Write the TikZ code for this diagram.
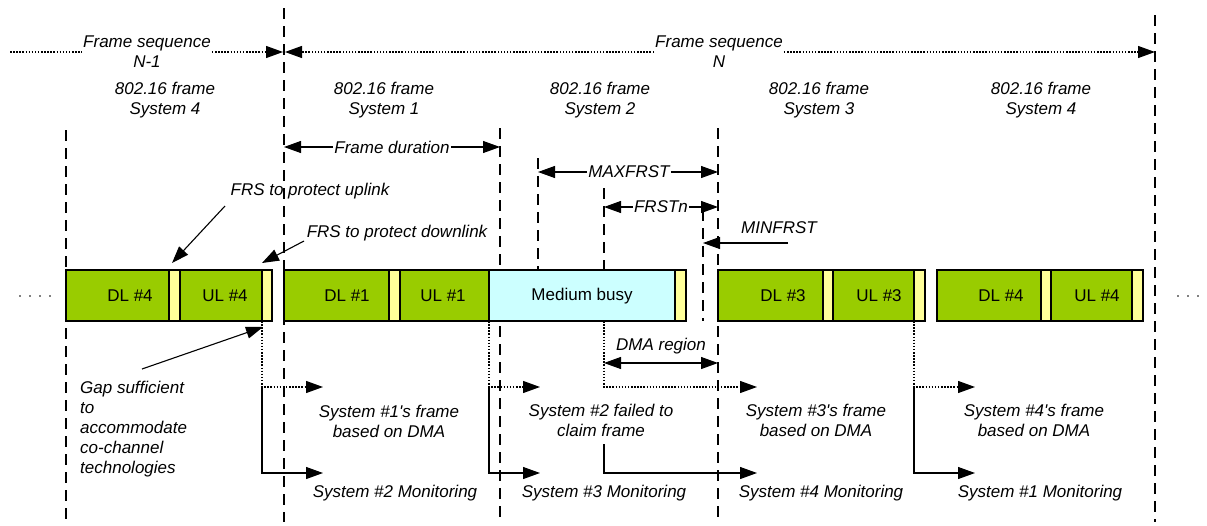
\documentclass[tikz,border=0pt]{standalone}
\usepackage{fontspec}
\setmainfont{Liberation Sans}
\usetikzlibrary{arrows.meta}
\definecolor{frmgreen}{HTML}{99CC00}
\definecolor{frsyellow}{HTML}{FFFF99}
\definecolor{busycyan}{HTML}{CCFFFF}
\newcommand{\apos}{\textquotesingle}
\begin{document}
\begin{tikzpicture}[x=1pt,y=-1pt,
  every node/.style={font=\fontsize{17}{20}\selectfont\itshape, inner sep=1pt},
  barlabel/.style={font=\fontsize{17}{20}\selectfont\upshape},
  guide/.style={line width=1.2pt, dash pattern=on 11pt off 7pt},
  dotln/.style={line width=1.2pt, dash pattern=on 1.5pt off 1.6pt},
  solidln/.style={line width=1.1pt},
  tip/.style={-{Triangle[length=17pt,width=12pt]}},
  bitip/.style={{Triangle[length=17pt,width=12pt]}-{Triangle[length=17pt,width=12pt]}},
  seg/.style={draw, line width=1.1pt},
  gapnote/.style={align=left, anchor=west},
  twoline/.style={align=center}
]
\useasboundingbox (0,0) rectangle (1207,525);

% frame boundaries and timing guides
\draw[guide] (66,130) -- (66,522);
\draw[guide] (284,8) -- (284,522);
\draw[guide] (500,128) -- (500,522);
\draw[guide] (718,128) -- (718,522);
\draw[guide] (1155,15) -- (1155,522);
\draw[guide] (538,158) -- (538,270);
\draw[guide] (604,188) -- (604,270);
\draw[guide] (703,210) -- (703,321);

% frame sequences
\coordinate (fsStart) at (10,52);
\coordinate (fsMid) at (284,52);
\coordinate (fsEnd) at (1155,52);
\node[twoline] (fsA) at (147,52) {Frame sequence\\N-1};
\node[twoline] (fsB) at (719,52) {Frame sequence\\N};
\draw[dotln] (fsStart) -- (fsA.west);
\draw[dotln, tip] (fsA.east) -- ([xshift=-1pt]fsMid);
\draw[dotln, tip] (fsB.west) -- ([xshift=1pt]fsMid);
\draw[dotln, tip] (fsB.east) -- (fsEnd);

% frame owners
\node[twoline] (own4a) at (165,100) {802.16 frame\\System 4};
\node[twoline] (own1) at (384,100) {802.16 frame\\System 1};
\node[twoline] (own2) at (600,100) {802.16 frame\\System 2};
\node[twoline] (own3) at (819,100) {802.16 frame\\System 3};
\node[twoline] (own4b) at (1041,100) {802.16 frame\\System 4};

% durations
\coordinate (fdL) at (284,147);
\coordinate (fdR) at (500,147);
\node (fd) at (392,147) {Frame duration};
\draw[solidln, tip] (fd.west) -- (fdL);
\draw[solidln, tip] (fd.east) -- (fdR);

\coordinate (mxL) at (538,172);
\coordinate (mxR) at (718,172);
\node (mx) at (629,172) {MAXFRST};
\draw[solidln, tip] (mx.west) -- (mxL);
\draw[solidln, tip] (mx.east) -- (mxR);

\coordinate (frL) at (604,207);
\coordinate (frR) at (718,207);
\node (fr) at (661,207) {FRSTn};
\draw[solidln, tip] (fr.west) -- (frL);
\draw[solidln, tip] (fr.east) -- (frR);

\node (mn) at (779,228) {MINFRST};
\coordinate (mnS) at (788,243);
\coordinate (mnT) at (703,243);
\draw[solidln, tip] (mnS) -- (mnT);

% frames
\draw[seg, fill=frmgreen] (66,270) rectangle (169,321);
\draw[seg, fill=frsyellow] (169,270) rectangle (180,321);
\draw[seg, fill=frmgreen] (180,270) rectangle (262,321);
\draw[seg, fill=frsyellow] (262,270) rectangle (272,321);

\draw[seg, fill=frmgreen] (284,270) rectangle (389,321);
\draw[seg, fill=frsyellow] (389,270) rectangle (400,321);
\draw[seg, fill=frmgreen] (400,270) rectangle (489,321);
\draw[seg, fill=busycyan] (489,270) rectangle (675,321);
\draw[seg, fill=frsyellow] (675,270) rectangle (686,321);

\draw[seg, fill=frmgreen] (718,270) rectangle (823,321);
\draw[seg, fill=frsyellow] (823,270) rectangle (833,321);
\draw[seg, fill=frmgreen] (833,270) rectangle (914,321);
\draw[seg, fill=frsyellow] (914,270) rectangle (925,321);

\draw[seg, fill=frmgreen] (937,270) rectangle (1041,321);
\draw[seg, fill=frsyellow] (1041,270) rectangle (1051,321);
\draw[seg, fill=frmgreen] (1051,270) rectangle (1132,321);
\draw[seg, fill=frsyellow] (1132,270) rectangle (1143,321);

\node[barlabel] (dl4a) at (130,296) {DL \#4};
\node[barlabel] (ul4a) at (225,296) {UL \#4};
\node[barlabel] (dl1) at (347,296) {DL \#1};
\node[barlabel] (ul1) at (443,296) {UL \#1};
\node[barlabel] (busy) at (582,296) {Medium busy};
\node[barlabel] (dl3) at (783,296) {DL \#3};
\node[barlabel] (ul3) at (879,296) {UL \#3};
\node[barlabel] (dl4b) at (1001,296) {DL \#4};
\node[barlabel] (ul4b) at (1097,296) {UL \#4};

% continuation dots
\foreach \x in {20,30,40,50,1178,1188,1198}
  \fill (\x,296) circle (0.8);

% protection slots
\node (frsU) at (310,191) {FRS to protect uplink};
\node (frsD) at (397,233) {FRS to protect downlink};
\coordinate (frsUs) at (225,206);
\coordinate (frsUt) at (172,263);
\coordinate (frsDs) at (304,241);
\coordinate (frsDt) at (262,263);
\draw[solidln, tip] (frsUs) -- (frsUt);
\draw[solidln, tip] (frsDs) -- (frsDt);

\node[gapnote] (gap) at (79,429) {Gap sufficient\\to\\accommodate\\co-channel\\technologies};
\coordinate (gapS) at (142,369);
\coordinate (gapT) at (263,327);
\draw[solidln, tip] (gapS) -- (gapT);

% DMA region
\node (dma) at (661,346) {DMA region};
\coordinate (dmaL) at (604,363);
\coordinate (dmaR) at (718,363);
\draw[solidln, bitip] (dmaL) -- (dmaR);

% hand-over to the next frame owner
\coordinate (h1) at (262,321);   \coordinate (h1m) at (262,387);
\coordinate (h2) at (489,321);   \coordinate (h2m) at (489,387);
\coordinate (h3) at (604,321);   \coordinate (h3m) at (604,444);
\coordinate (h4) at (914,321);   \coordinate (h4m) at (914,387);
\coordinate (d1) at (323,387);   \coordinate (m1) at (323,473);
\coordinate (d2) at (540,387);   \coordinate (m2) at (540,473);
\coordinate (d3) at (757,387);   \coordinate (m3) at (757,473);
\coordinate (d4) at (975,387);   \coordinate (m4) at (975,473);

\draw[dotln, tip] (h1) |- (d1);
\draw[solidln, tip] (h1m) |- (m1);
\draw[dotln, tip] (h2) |- (d2);
\draw[solidln, tip] (h2m) |- (m2);
\draw[dotln, tip] (h3) |- (d3);
\draw[solidln, tip] (h3m) |- (m3);
\draw[dotln, tip] (h4) |- (d4);
\draw[solidln, tip] (h4m) |- (m4);

\node[twoline] (res1) at (389,421) {System \#1\apos s frame\\based on DMA};
\node[twoline] (res2) at (601,420) {System \#2 failed to\\claim frame};
\node[twoline] (res3) at (816,420) {System \#3\apos s frame\\based on DMA};
\node[twoline] (res4) at (1034,420) {System \#4\apos s frame\\based on DMA};

\node (mon2) at (395,493) {System \#2 Monitoring};
\node (mon3) at (604,493) {System \#3 Monitoring};
\node (mon4) at (821,493) {System \#4 Monitoring};
\node (mon1) at (1040,493) {System \#1 Monitoring};
\end{tikzpicture}
\end{document}
